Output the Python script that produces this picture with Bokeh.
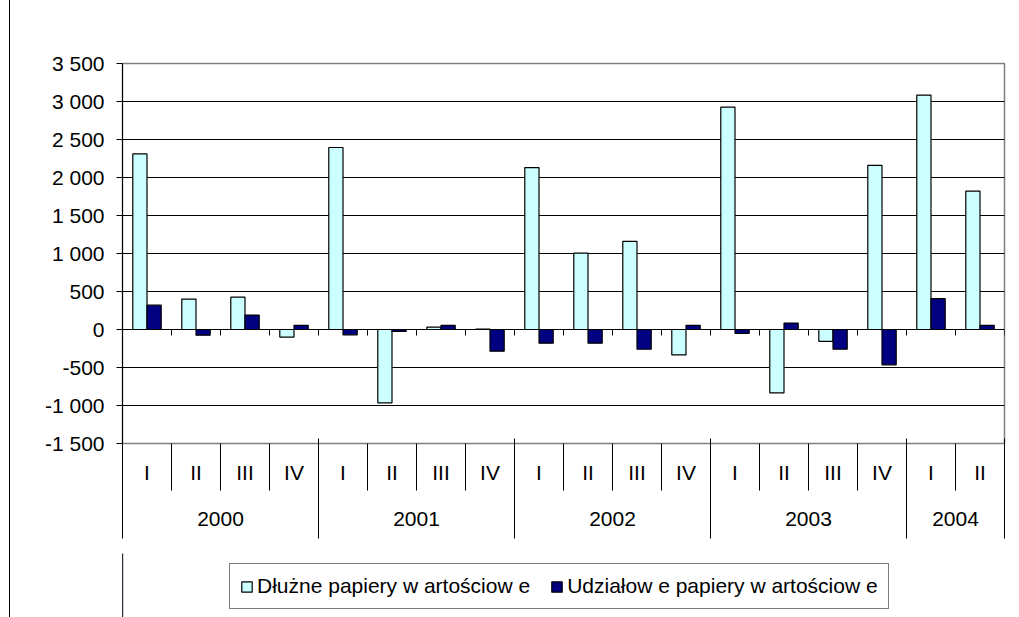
from bokeh.plotting import figure
from bokeh.layouts import column
from bokeh.models import Range1d, LinearAxis, FixedTicker, Legend, LegendItem, ColumnDataSource
from bokeh.embed import file_html
from bokeh.resources import INLINE

# ---- data ----
quarters = ["I", "II", "III", "IV", "I", "II", "III", "IV", "I", "II", "III", "IV",
            "I", "II", "III", "IV", "I", "II"]
years = ["2000", "2001", "2002", "2003", "2004"]
year_sizes = [4, 4, 4, 4, 2]
debt = [2310, 400, 425, -100, 2395, -965, 30, 5, 2130, 1005, 1160, -335,
        2925, -835, -155, 2160, 3085, 1820]
equity = [320, -75, 190, 55, -70, -25, 55, -285, -180, -180, -260, 55,
          -50, 85, -260, -465, 405, 55]
y_ticks = [-1500, -1000, -500, 0, 500, 1000, 1500, 2000, 2500, 3000, 3500]
y_tick_labels = ["-1 500", "-1 000", "-500", "0", "500", "1 000", "1 500",
                 "2 000", "2 500", "3 000", "3 500"]
series_names = ["Dłużne papiery w artościow e", "Udziałow e papiery w artościow e"]
colors = ["#CCFFFF", "#000080"]

FONT = "Liberation Sans"
n = len(quarters)
idx = list(range(n))
bar_w = 0.29

src = ColumnDataSource(dict(
    xd=[i + 0.5 - bar_w / 2 for i in idx],
    xe=[i + 0.5 + bar_w / 2 for i in idx],
    debt=debt, equity=equity))

p = figure(frame_width=882, frame_height=380,
           x_range=Range1d(0, n), y_range=Range1d(y_ticks[0], y_ticks[-1]),
           output_backend="svg", toolbar_location=None, x_axis_type=None,
           min_border_left=112, min_border_top=63, min_border_right=7, min_border_bottom=110)
p.background_fill_color = "white"
p.border_fill_color = "white"
p.outline_line_color = "#808080"
p.outline_line_width = 1.5

# y axis
ya = p.yaxis[0]
ya.ticker = FixedTicker(ticks=y_ticks)
ya.major_label_overrides = {t: l for t, l in zip(y_ticks, y_tick_labels)}
ya.axis_line_color = "black"
ya.major_tick_in = 0
ya.major_tick_out = 6
ya.minor_tick_line_color = None
ya.major_label_standoff = 12
ya.major_label_text_font = FONT
ya.major_label_text_font_size = "21px"
ya.major_label_text_color = "black"
p.ygrid.ticker = FixedTicker(ticks=y_ticks)
p.ygrid.grid_line_color = "black"

# bars
r1 = p.vbar(x="xd", top="debt", bottom=0, width=bar_w, source=src,
            fill_color=colors[0], line_color="black", line_width=1.2)
r2 = p.vbar(x="xe", top="equity", bottom=0, width=bar_w, source=src,
            fill_color=colors[1], line_color="black", line_width=1.2)

# category axis at zero: line + small ticks
p.line(x=[0, n], y=[0, 0], line_color="black", line_width=1)
tick_len = 6 * (y_ticks[-1] - y_ticks[0]) / 380.0
p.segment(x0=list(range(n + 1)), y0=[0] * (n + 1), x1=list(range(n + 1)), y1=[-tick_len] * (n + 1),
          line_color="black", line_width=1)

# quarter labels axis
qaxis = LinearAxis(
    ticker=FixedTicker(ticks=[i + 0.5 for i in idx], minor_ticks=list(range(n + 1))),
    major_label_overrides={i + 0.5: q for i, q in enumerate(quarters)},
    axis_line_color=None, major_tick_in=0, major_tick_out=0,
    minor_tick_in=0, minor_tick_out=47, minor_tick_line_color="black",
    major_label_standoff=-30, major_label_text_font=FONT,
    major_label_text_font_size="21px", major_label_text_color="black")
p.add_layout(qaxis, "below")

# year labels axis
bounds = [0]
for s in year_sizes:
    bounds.append(bounds[-1] + s)
centers = [(bounds[k] + bounds[k + 1]) / 2 for k in range(len(years))]
yraxis = LinearAxis(
    ticker=FixedTicker(ticks=centers, minor_ticks=bounds),
    major_label_overrides={c: y for c, y in zip(centers, years)},
    axis_line_color=None, major_tick_in=0, major_tick_out=0,
    minor_tick_in=48, minor_tick_out=52, minor_tick_line_color="black",
    major_label_standoff=-27, major_label_text_font=FONT,
    major_label_text_font_size="21px", major_label_text_color="black")
p.add_layout(yraxis, "below")

# legend strip (separate small figure so that the legend is never clipped)
lg = figure(width=1003, height=64, x_range=Range1d(0, 1), y_range=Range1d(0, 1),
            output_backend="svg", toolbar_location=None, x_axis_type=None, y_axis_type=None,
            min_border=0)
lg.outline_line_color = None
lg.xgrid.visible = False
lg.ygrid.visible = False
# proxy renderers for the legend keys (placed outside the visible range)
l1 = lg.vbar(x=[-5], top=[1], bottom=0, width=0.1, fill_color=colors[0], line_color="black", line_width=1.2)
l2 = lg.vbar(x=[-5], top=[1], bottom=0, width=0.1, fill_color=colors[1], line_color="black", line_width=1.2)
legend = Legend(items=[LegendItem(label=series_names[0], renderers=[l1]),
                       LegendItem(label=series_names[1], renderers=[l2])],
                orientation="horizontal", location=(107, 8),
                border_line_color="black", border_line_width=1,
                label_text_font=FONT, label_text_font_size="21px", label_text_color="black",
                glyph_width=13, glyph_height=13, label_standoff=4, spacing=20,
                padding=10, margin=0)
lg.add_layout(legend, "center")

layout = column(p, lg, spacing=0)
layout.styles = {"margin-left": "9px", "border-left": "1px solid black"}

open("out.html", "w").write(file_html(layout, INLINE))
